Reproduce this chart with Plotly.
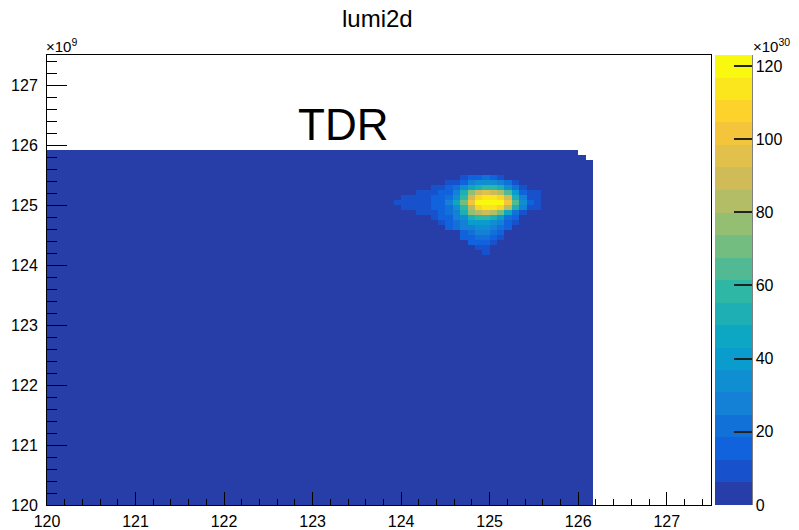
import plotly.graph_objects as go

# ---------------- data ----------------
X_START = 120.0            # ×10^9
Y_START = 120.0            # ×10^9
BIN_WIDTH = 1.0 / 12.0
N_COLS = 74
N_ROWS = 71
# number of filled rows in each x column (top edge of the filled region)
filled_rows = [71] * 72 + [70, 69]
# low luminosity level everywhere in the filled region (×10^30)
background_level = 1.0

# hotspot values (×10^30): row index -> (first column index, values)
hot_rows = {
    65: (56, [11, 14, 18, 19, 16, 11]),
    64: (54, [9, 12, 18, 26, 32, 34, 33, 28, 19, 11]),
    63: (52, [9, 10, 13, 20, 32, 44, 54, 58, 57, 50, 36, 20, 11]),
    62: (50, [8, 9, 10, 13, 18, 30, 52, 76, 90, 94, 92, 84, 62, 38, 18, 10, 8]),
    61: (48, [8, 9, 10, 11, 13, 16, 21, 34, 56, 88, 108, 116, 116, 108, 88, 54, 26, 12, 8]),
    60: (47, [8, 9, 10, 11, 12, 14, 17, 26, 44, 70, 100, 118, 122, 122, 118, 100, 66, 34, 16, 8]),
    59: (48, [8, 9, 10, 11, 13, 16, 21, 34, 56, 86, 106, 116, 116, 106, 86, 52, 26, 12, 8]),
    58: (50, [8, 9, 11, 14, 19, 30, 50, 74, 86, 90, 86, 72, 44, 22, 12]),
    57: (52, [10, 13, 18, 26, 36, 50, 58, 60, 54, 40, 24, 14]),
    56: (53, [12, 16, 22, 30, 38, 42, 42, 36, 26, 16, 11]),
    55: (54, [14, 20, 26, 30, 32, 32, 28, 20, 14]),
    54: (56, [18, 22, 25, 25, 21, 15]),
    53: (56, [14, 18, 20, 20, 16, 12]),
    52: (57, [14, 16, 16, 12]),
    51: (58, [12, 12]),
    50: (59, [10]),
}

x_ticks = [120, 121, 122, 123, 124, 125, 126, 127]
y_ticks = [120, 121, 122, 123, 124, 125, 126, 127]
z_ticks = [0, 20, 40, 60, 80, 100, 120]
Z_MAX = 123.0

# ---------------- build the histogram ----------------
z = []
for r in range(N_ROWS):
    row = []
    for c in range(N_COLS):
        row.append(background_level if r < filled_rows[c] else None)
    z.append(row)
for r, (c0, vals) in hot_rows.items():
    for k, v in enumerate(vals):
        z[r][c0 + k] = v

# ---------------- ROOT kBird palette, 20 contour levels ----------------
stops = [0.0, 0.125, 0.25, 0.375, 0.5, 0.625, 0.75, 0.875, 1.0]
red = [0.2082, 0.0592, 0.0780, 0.0232, 0.1802, 0.5301, 0.8186, 0.9956, 0.9764]
green = [0.1664, 0.3599, 0.5041, 0.6419, 0.7178, 0.7492, 0.7328, 0.7862, 0.9832]
blue = [0.5293, 0.8684, 0.8385, 0.7914, 0.6425, 0.4662, 0.3499, 0.1968, 0.0539]


def bird(t):
    for g in range(len(stops) - 1):
        if t <= stops[g + 1] or g == len(stops) - 2:
            f = (t - stops[g]) / (stops[g + 1] - stops[g])
            f = min(max(f, 0), 1)
            r = red[g] + f * (red[g + 1] - red[g])
            gg = green[g] + f * (green[g + 1] - green[g])
            b = blue[g] + f * (blue[g + 1] - blue[g])
            return "rgb(%d,%d,%d)" % (round(r * 255), round(gg * 255), round(b * 255))


NLEV = 20
colorscale = []
for i in range(NLEV):
    idx = int((i + 0.99) * 255 / NLEV)
    col = bird(idx / 255.0)
    colorscale.append([i / NLEV, col])
    colorscale.append([(i + 1) / NLEV, col])

# ---------------- layout geometry ----------------
W, H = 799, 530
PL, PR, PT, PB = 47, 711, 55, 505   # plot frame in pixels


def paper_x(px):
    return (px - PL) / (PR - PL)


def paper_y(py):
    return (PB - py) / (PB - PT)


FONT = "Liberation Sans, Arial, Helvetica, sans-serif"

fig = go.Figure()
fig.add_trace(go.Heatmap(
    z=z,
    x0=X_START + BIN_WIDTH / 2, dx=BIN_WIDTH,
    y0=Y_START + BIN_WIDTH / 2, dy=BIN_WIDTH,
    zmin=0, zmax=Z_MAX,
    colorscale=colorscale,
    zsmooth=False,
    hoverongaps=False,
    colorbar=dict(
        x=paper_x(715), xanchor="left", xpad=0,
        y=0.5, yanchor="middle", ypad=0,
        len=PB - PT, lenmode="pixels",
        thickness=37, thicknessmode="pixels",
        outlinewidth=0,
        tickmode="array", tickvals=z_ticks, ticktext=[str(v) for v in z_ticks],
        ticks="inside", ticklen=18, tickwidth=2, tickcolor="#222222",
        tickfont=dict(family=FONT, size=16, color="black"),
        ticklabelposition="outside",
    ),
))

axis_common = dict(
    showgrid=False, zeroline=False,
    showline=True, linecolor="black", linewidth=1, mirror=True,
    ticks="inside", tickcolor="black", tickwidth=1,
    tickfont=dict(family=FONT, size=16, color="black"),
)
fig.update_xaxes(range=[120, 127.5], tickmode="array", tickvals=x_ticks,
                 ticktext=[str(v) for v in x_ticks], ticklen=13,
                 minor=dict(ticks="inside", ticklen=6, tickcolor="black",
                            tickwidth=1, dtick=0.2, tick0=120, showgrid=False),
                 ticklabelstandoff=2, **axis_common)
fig.update_yaxes(range=[120, 127.5], tickmode="array", tickvals=y_ticks,
                 ticktext=[str(v) for v in y_ticks], ticklen=20,
                 minor=dict(ticks="inside", ticklen=10, tickcolor="black",
                            tickwidth=1, dtick=0.2, tick0=120, showgrid=False),
                 ticklabelstandoff=5, **axis_common)

annotations = [
    dict(text="lumi2d", xref="paper", yref="paper", x=paper_x(377), y=paper_y(18.5),
         xanchor="center", yanchor="middle", showarrow=False,
         font=dict(family=FONT, size=24, color="black")),
    dict(text="TDR", xref="x", yref="y", x=123.34, y=126.35,
         xanchor="center", yanchor="middle", showarrow=False,
         font=dict(family=FONT, size=44, color="black")),
    dict(text="×10<sup>9</sup>", xref="paper", yref="paper", x=paper_x(44), y=paper_y(45),
         xanchor="left", yanchor="middle", showarrow=False,
         font=dict(family=FONT, size=15, color="black")),
    dict(text="×10<sup>30</sup>", xref="paper", yref="paper", x=paper_x(751), y=paper_y(45),
         xanchor="left", yanchor="middle", showarrow=False,
         font=dict(family=FONT, size=15, color="black")),
]

shapes = [
    dict(type="line", xref="paper", yref="paper", x0=paper_x(752), x1=paper_x(752),
         y0=0, y1=1, line=dict(color="black", width=1)),
]

fig.update_layout(
    width=W, height=H,
    margin=dict(l=PL, r=W - PR, t=PT, b=H - PB, pad=0, autoexpand=False),
    paper_bgcolor="white", plot_bgcolor="white",
    annotations=annotations, shapes=shapes,
    showlegend=False,
)

# remove the default 8 px page margin so the figure fills the window exactly
fig.write_html("out.html",
               config={"displayModeBar": False},
               post_script="document.body.style.margin='0px';"
                           "document.body.style.overflow='hidden';")
